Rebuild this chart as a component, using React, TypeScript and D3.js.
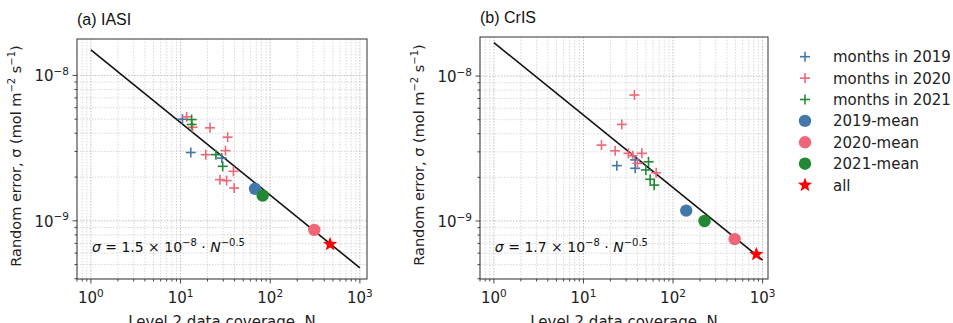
import React from "react";
import * as d3 from "d3";

// ---------- data ----------
type Pt = [number, number];

const iasi2019: Pt[] = [[10.5, 5.0e-9], [13, 2.95e-9], [28.8, 2.7e-9]];
const iasi2020: Pt[] = [
  [11.7, 5.19e-9], [13.6, 4.4e-9], [21.3, 4.36e-9], [33.5, 3.76e-9], [31.7, 3.04e-9],
  [19.1, 2.85e-9], [38.9, 2.19e-9], [27.5, 1.92e-9], [32.6, 1.89e-9], [39.6, 1.68e-9],
];
const iasi2021: Pt[] = [[13.3, 4.97e-9], [13.3, 4.6e-9], [24.8, 2.85e-9], [29.5, 2.37e-9]];
const iasiMeans: Pt[] = [[67.7, 1.66e-9], [310, 8.67e-10], [82.4, 1.49e-9]];
const iasiAll: Pt = [465, 6.9e-10];
const iasiCoef = 1.5e-8;

const cris2019: Pt[] = [[23.6, 2.41e-9], [37.8, 2.31e-9], [37.8, 2.64e-9]];
const cris2020: Pt[] = [
  [37.1, 7.4e-9], [26.8, 4.64e-9], [15.9, 3.34e-9], [22.6, 3.05e-9], [31.8, 2.93e-9],
  [35.5, 2.82e-9], [44.9, 2.93e-9], [40.1, 2.5e-9], [64.9, 2.15e-9],
];
const cris2021: Pt[] = [[53.3, 2.56e-9], [49.8, 2.25e-9], [55.6, 1.94e-9], [61.7, 1.77e-9]];
const crisMeans: Pt[] = [[140.5, 1.18e-9], [488, 7.5e-10], [225, 1.0e-9]];
const crisAll: Pt = [852, 5.9e-10];
const crisCoef = 1.7e-8;

const fitN = [1, 1000];
const xMajor = [1, 10, 100, 1000];
const xMajorExp = ["0", "1", "2", "3"];
const yMajor = [1e-9, 1e-8];
const yMajorExp = ["−9", "−8"];

const legendLabels = [
  "months in 2019", "months in 2020", "months in 2021",
  "2019-mean", "2020-mean", "2021-mean", "all",
];

const C19 = "#4477AA";
const C20 = "#EE6677";
const C21 = "#228833";
const CALL = "#FF0000";
const yearColors = [C19, C20, C21];

const FONT = "DejaVu Sans, sans-serif";
const TFONT = "Liberation Sans, Arial, sans-serif";

function minorTicks(lo: number, hi: number): number[] {
  const out: number[] = [];
  for (let e = -12; e <= 4; e++) {
    for (let m = 2; m <= 9; m++) {
      const v = m * Math.pow(10, e);
      if (v > lo && v < hi) out.push(v);
    }
  }
  return out;
}

function Plus({ x, y, c, s = 5 }: { x: number; y: number; c: string; s?: number }) {
  return (
    <g stroke={c} strokeWidth={1.6}>
      <line x1={x - s} x2={x + s} y1={y} y2={y} />
      <line x1={x} x2={x} y1={y - s} y2={y + s} />
    </g>
  );
}

function starPath(cx: number, cy: number, R: number, r: number) {
  const pts: string[] = [];
  for (let i = 0; i < 10; i++) {
    const a = -Math.PI / 2 + (i * Math.PI) / 5;
    const rad = i % 2 === 0 ? R : r;
    pts.push(`${cx + rad * Math.cos(a)},${cy + rad * Math.sin(a)}`);
  }
  return "M" + pts.join("L") + "Z";
}

interface PanelProps {
  left: number; right: number; top: number; bottom: number;
  xDom: [number, number]; yDom: [number, number];
  title: string; coefText: string; coef: number;
  m19: Pt[]; m20: Pt[]; m21: Pt[]; means: Pt[]; all: Pt;
}

function Panel(p: PanelProps) {
  const x = d3.scaleLog().domain(p.xDom).range([p.left, p.right]);
  const y = d3.scaleLog().domain(p.yDom).range([p.bottom, p.top]);
  const xMin = minorTicks(p.xDom[0], p.xDom[1]);
  const yMin = minorTicks(p.yDom[0], p.yDom[1]);
  const line = d3.line<number>().x((n) => x(n)).y((n) => y(p.coef * Math.pow(n, -0.5)));
  const cx = (p.left + p.right) / 2;
  const cy = (p.top + p.bottom) / 2;
  return (
    <g>
      {/* grid */}
      <g strokeDasharray="1.5,1.5" fill="none">
        {xMin.map((v, i) => (
          <line key={"xm" + i} x1={x(v)} x2={x(v)} y1={p.top} y2={p.bottom} stroke="#cfcfcf" strokeWidth={0.8} />
        ))}
        {yMin.map((v, i) => (
          <line key={"ym" + i} y1={y(v)} y2={y(v)} x1={p.left} x2={p.right} stroke="#cfcfcf" strokeWidth={0.8} />
        ))}
        {xMajor.map((v, i) => (
          <line key={"xM" + i} x1={x(v)} x2={x(v)} y1={p.top} y2={p.bottom} stroke="#b8b8b8" strokeWidth={0.9} />
        ))}
        {yMajor.map((v, i) => (
          <line key={"yM" + i} y1={y(v)} y2={y(v)} x1={p.left} x2={p.right} stroke="#b8b8b8" strokeWidth={0.9} />
        ))}
      </g>
      {/* fit line */}
      <path d={line(fitN) || ""} stroke="#111" strokeWidth={1.6} fill="none" />
      {/* monthly */}
      {[p.m19, p.m20, p.m21].map((arr, k) =>
        arr.map((d, i) => <Plus key={k + "-" + i} x={x(d[0])} y={y(d[1])} c={yearColors[k]} />)
      )}
      {/* means */}
      {p.means.map((d, i) => (
        <circle key={"mn" + i} cx={x(d[0])} cy={y(d[1])} r={6.2} fill={yearColors[i]} />
      ))}
      <path d={starPath(x(p.all[0]), y(p.all[1]), 7.5, 3.2)} fill={CALL} />
      {/* frame */}
      <rect x={p.left} y={p.top} width={p.right - p.left} height={p.bottom - p.top} fill="none" stroke="#333" strokeWidth={1} />
      {/* ticks */}
      <g stroke="#333" strokeWidth={0.9}>
        {xMajor.map((v, i) => (
          <line key={"xt" + i} x1={x(v)} x2={x(v)} y1={p.bottom} y2={p.bottom + 4.5} />
        ))}
        {xMin.map((v, i) => (
          <line key={"xtm" + i} x1={x(v)} x2={x(v)} y1={p.bottom} y2={p.bottom + 2.5} />
        ))}
        {yMajor.map((v, i) => (
          <line key={"yt" + i} y1={y(v)} y2={y(v)} x1={p.left} x2={p.left - 4.5} />
        ))}
        {yMin.map((v, i) => (
          <line key={"ytm" + i} y1={y(v)} y2={y(v)} x1={p.left} x2={p.left - 2.5} />
        ))}
      </g>
      {/* tick labels */}
      <g fontFamily={FONT} fill="#222">
        {xMajor.map((v, i) => (
          <text key={"xl" + i} x={x(v)} y={p.bottom + 24} textAnchor="middle" fontSize={15}>
            10<tspan fontSize={10.5} dy={-6.5}>{xMajorExp[i]}</tspan>
          </text>
        ))}
        {yMajor.map((v, i) => (
          <text key={"yl" + i} x={p.left - 8} y={y(v) + 6} textAnchor="end" fontSize={15}>
            10<tspan fontSize={10.5} dy={-6.5}>{yMajorExp[i]}</tspan>
          </text>
        ))}
      </g>
      {/* axis labels */}
      <text x={cx} y={p.bottom + 48} textAnchor="middle" fontFamily={FONT} fontSize={15} fill="#222">
        Level 2 data coverage, N
      </text>
      <text
        transform={`translate(${p.left - 56},${cy - 3}) rotate(-90)`}
        textAnchor="middle" fontFamily={FONT} fontSize={14.5} fill="#222"
      >
        Random error, σ (mol m<tspan fontSize={10} dy={-6}>−2</tspan>
        <tspan dy={6}> s</tspan><tspan fontSize={10} dy={-6}>−1</tspan><tspan dy={6}>)</tspan>
      </text>
      {/* title */}
      <text x={p.left} y={p.top - 14} fontFamily={TFONT} fontSize={16} fill="#111">{p.title}</text>
      {/* annotation */}
      <text x={x(1) + 1} y={y(p.yDom[0]) - 27} fontFamily={FONT} fontSize={14} fill="#111">
        <tspan fontStyle="italic">σ</tspan> = {p.coefText} × 10<tspan fontSize={10} dy={-6}>−8</tspan>
        <tspan dy={6}> · </tspan><tspan fontStyle="italic">N</tspan>
        <tspan fontSize={10} dy={-6}>−0.5</tspan>
      </text>
    </g>
  );
}

function Legend() {
  const x0 = 805;
  const y0 = 56.7;
  const dy = 21.4;
  return (
    <g fontFamily={FONT} fontSize={15} fill="#222">
      {legendLabels.map((lab, i) => {
        const yy = y0 + i * dy;
        let mark: React.ReactNode;
        if (i < 3) mark = <Plus x={x0} y={yy} c={yearColors[i]} />;
        else if (i < 6) mark = <circle cx={x0} cy={yy} r={6.2} fill={yearColors[i - 3]} />;
        else mark = <path d={starPath(x0, yy, 7.5, 3.2)} fill={CALL} />;
        return (
          <g key={lab}>
            {mark}
            <text x={833} y={yy + 5.5}>{lab}</text>
          </g>
        );
      })}
    </g>
  );
}

export default function App() {
  return (
    <svg width={953} height={323} style={{ position: "absolute", left: 0, top: 0, background: "#fff" }}>
      <Panel
        left={77} right={367} top={39} bottom={279}
        xDom={[0.7, 1200]} yDom={[3.98e-10, 1.78e-8]}
        title="(a) IASI" coefText="1.5" coef={iasiCoef}
        m19={iasi2019} m20={iasi2020} m21={iasi2021} means={iasiMeans} all={iasiAll}
      />
      <Panel
        left={480} right={768} top={37} bottom={279}
        xDom={[0.7, 1150]} yDom={[3.98e-10, 1.86e-8]}
        title="(b) CrIS" coefText="1.7" coef={crisCoef}
        m19={cris2019} m20={cris2020} m21={cris2021} means={crisMeans} all={crisAll}
      />
      <Legend />
    </svg>
  );
}
